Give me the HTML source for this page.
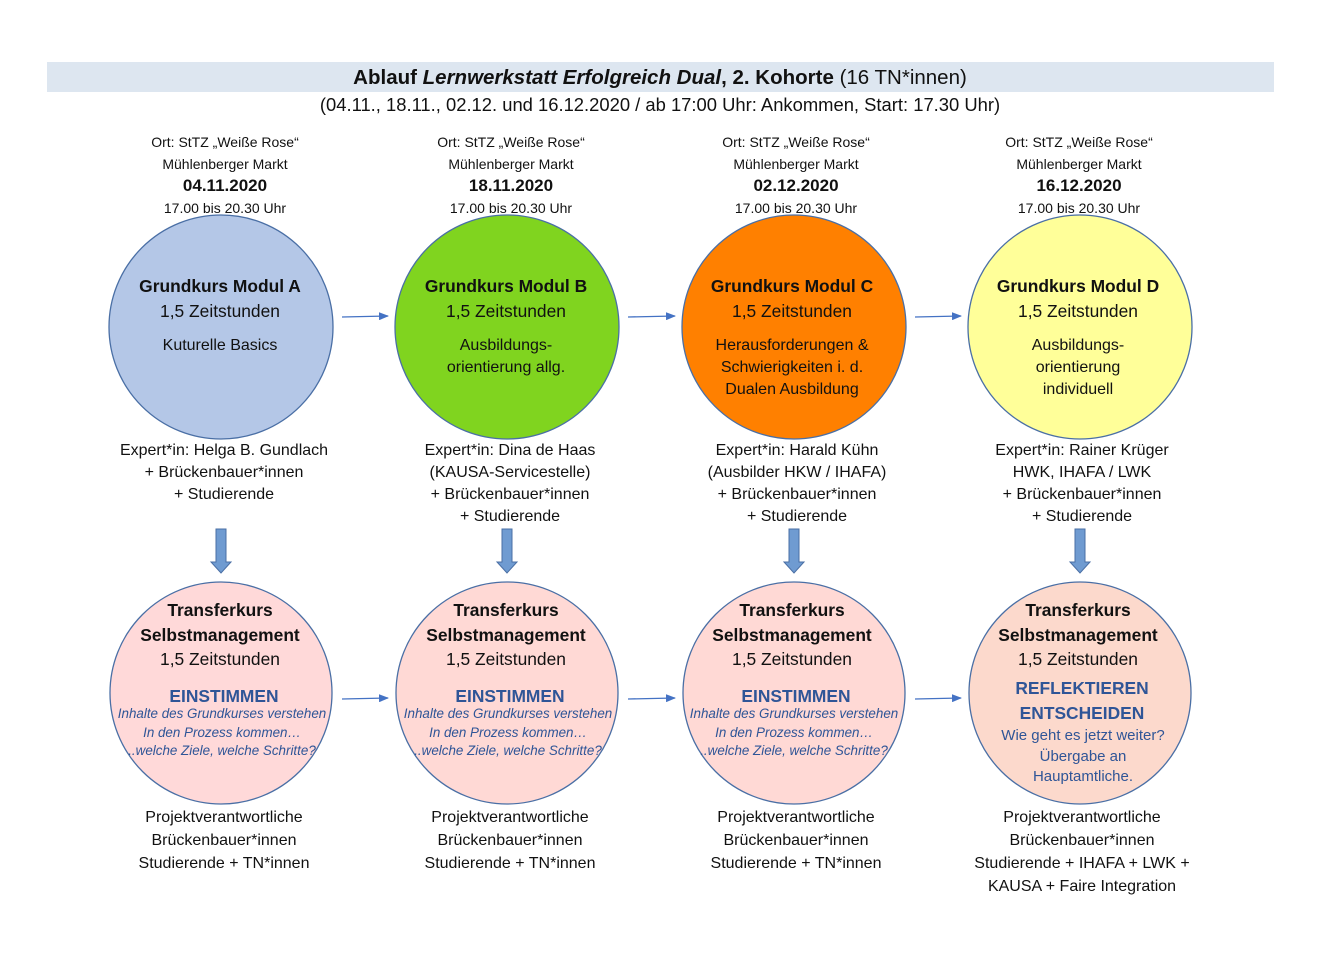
<!DOCTYPE html>
<html><head><meta charset="utf-8"><style>
body{margin:0;width:1340px;height:953px;background:#fff;position:relative;font-family:"Liberation Sans",sans-serif;color:#111;overflow:hidden}
.t{position:absolute;text-align:center;white-space:nowrap;transform:translateX(-50%)}
.hd{font-size:14px;line-height:21.5px}
.ci{font-size:16px;line-height:22px}
.b{font-weight:bold}
.blue{color:#2f5597}
.it{font-style:italic;font-size:13.4px;line-height:18.5px;color:#2f5597}
</style></head><body>
<div style="position:absolute;left:47px;top:62px;width:1227px;height:30px;background:#dde6f0"></div>
<div class="t" style="left:660px;top:66px;font-size:20.5px"><b>Ablauf <i>Lernwerkstatt Erfolgreich Dual</i>, 2. Kohorte</b> (16 TN*innen)</div>
<div class="t" style="left:660px;top:94px;font-size:18.4px">(04.11., 18.11., 02.12. und 16.12.2020 / ab 17:00 Uhr: Ankommen, Start: 17.30 Uhr)</div>
<svg width="1340" height="953" style="position:absolute;left:0;top:0">
<defs><marker id="a" markerWidth="10" markerHeight="8" refX="9" refY="4" orient="auto" markerUnits="userSpaceOnUse"><path d="M0,0L10,4L0,8z" fill="#4472c4"/></marker></defs>
<g stroke="#4a6fa5" stroke-width="1.3">
<circle cx="221" cy="327" r="112" fill="#b4c7e7"/>
<circle cx="507" cy="327" r="112" fill="#80d41f"/>
<circle cx="794" cy="327" r="112" fill="#ff8000"/>
<circle cx="1080" cy="327" r="112" fill="#ffff99"/>
<circle cx="221" cy="693" r="111" fill="#ffd9d9"/>
<circle cx="507" cy="693" r="111" fill="#ffd9d5"/>
<circle cx="794" cy="693" r="111" fill="#ffd9d5"/>
<circle cx="1080" cy="693" r="111" fill="#fcd9cc"/>
</g>
<g stroke="#4472c4" stroke-width="1.3" marker-end="url(#a)">
<line x1="342" y1="317" x2="388" y2="316"/>
<line x1="628" y1="317" x2="675" y2="316"/>
<line x1="915" y1="317" x2="961" y2="316"/>
<line x1="342" y1="699" x2="388" y2="698"/>
<line x1="628" y1="699" x2="675" y2="698"/>
<line x1="915" y1="699" x2="961" y2="698"/>
</g>
<g fill="#6f9bd1" stroke="#4a6fa5" stroke-width="1">
<path d="M216,529h10v33h5l-10,11l-10,-11h5z"/>
<path d="M502,529h10v33h5l-10,11l-10,-11h5z"/>
<path d="M789,529h10v33h5l-10,11l-10,-11h5z"/>
<path d="M1075,529h10v33h5l-10,11l-10,-11h5z"/>
</g>
</svg>

<div class="t hd" style="left:225px;top:132px">Ort: StTZ „Weiße Rose“<br>Mühlenberger Markt<br><b style="font-size:17px">04.11.2020</b><br>17.00 bis 20.30 Uhr</div>
<div class="t hd" style="left:511px;top:132px">Ort: StTZ „Weiße Rose“<br>Mühlenberger Markt<br><b style="font-size:17px">18.11.2020</b><br>17.00 bis 20.30 Uhr</div>
<div class="t hd" style="left:796px;top:132px">Ort: StTZ „Weiße Rose“<br>Mühlenberger Markt<br><b style="font-size:17px">02.12.2020</b><br>17.00 bis 20.30 Uhr</div>
<div class="t hd" style="left:1079px;top:132px">Ort: StTZ „Weiße Rose“<br>Mühlenberger Markt<br><b style="font-size:17px">16.12.2020</b><br>17.00 bis 20.30 Uhr</div>

<div class="t ci" style="left:220px;top:274px;font-size:17.4px;line-height:25px"><b>Grundkurs Modul A</b><br>1,5 Zeitstunden</div>
<div class="t ci" style="left:220px;top:335px">Kuturelle Basics</div>
<div class="t ci" style="left:506px;top:274px;font-size:17.4px;line-height:25px"><b>Grundkurs Modul B</b><br>1,5 Zeitstunden</div>
<div class="t ci" style="left:506px;top:335px">Ausbildungs-<br>orientierung allg.</div>
<div class="t ci" style="left:792px;top:274px;font-size:17.4px;line-height:25px"><b>Grundkurs Modul C</b><br>1,5 Zeitstunden</div>
<div class="t ci" style="left:792px;top:335px">Herausforderungen &amp;<br>Schwierigkeiten i. d.<br>Dualen Ausbildung</div>
<div class="t ci" style="left:1078px;top:274px;font-size:17.4px;line-height:25px"><b>Grundkurs Modul D</b><br>1,5 Zeitstunden</div>
<div class="t ci" style="left:1078px;top:335px">Ausbildungs-<br>orientierung<br>individuell</div>

<div class="t ci" style="left:224px;top:440px">Expert*in: Helga B. Gundlach<br>+ Brückenbauer*innen<br>+ Studierende</div>
<div class="t ci" style="left:510px;top:440px">Expert*in: Dina de Haas<br>(KAUSA-Servicestelle)<br>+ Brückenbauer*innen<br>+ Studierende</div>
<div class="t ci" style="left:797px;top:440px">Expert*in: Harald Kühn<br>(Ausbilder HKW / IHAFA)<br>+ Brückenbauer*innen<br>+ Studierende</div>
<div class="t ci" style="left:1082px;top:440px">Expert*in: Rainer Krüger<br>HWK, IHAFA / LWK<br>+ Brückenbauer*innen<br>+ Studierende</div>

<div class="t ci" style="left:220px;top:598px;font-size:17.4px;line-height:24.5px"><b>Transferkurs<br>Selbstmanagement</b><br>1,5 Zeitstunden</div>
<div class="t b blue" style="left:224px;top:686px;font-size:17.4px">EINSTIMMEN</div>
<div class="t it" style="left:222px;top:705px">Inhalte des Grundkurses verstehen<br>In den Prozess kommen…<br>..welche Ziele, welche Schritte?</div>
<div class="t ci" style="left:506px;top:598px;font-size:17.4px;line-height:24.5px"><b>Transferkurs<br>Selbstmanagement</b><br>1,5 Zeitstunden</div>
<div class="t b blue" style="left:510px;top:686px;font-size:17.4px">EINSTIMMEN</div>
<div class="t it" style="left:508px;top:705px">Inhalte des Grundkurses verstehen<br>In den Prozess kommen…<br>..welche Ziele, welche Schritte?</div>
<div class="t ci" style="left:792px;top:598px;font-size:17.4px;line-height:24.5px"><b>Transferkurs<br>Selbstmanagement</b><br>1,5 Zeitstunden</div>
<div class="t b blue" style="left:796px;top:686px;font-size:17.4px">EINSTIMMEN</div>
<div class="t it" style="left:794px;top:705px">Inhalte des Grundkurses verstehen<br>In den Prozess kommen…<br>..welche Ziele, welche Schritte?</div>
<div class="t ci" style="left:1078px;top:598px;font-size:17.4px;line-height:24.5px"><b>Transferkurs<br>Selbstmanagement</b><br>1,5 Zeitstunden</div>
<div class="t b blue" style="left:1082px;top:676px;font-size:17.4px;line-height:25px">REFLEKTIEREN<br>ENTSCHEIDEN</div>
<div class="t blue" style="left:1083px;top:726px;font-size:15px;line-height:20.5px">Wie geht es jetzt weiter?<br>Übergabe an<br>Hauptamtliche.</div>

<div class="t ci" style="left:224px;top:806px;line-height:23px">Projektverantwortliche<br>Brückenbauer*innen<br>Studierende + TN*innen</div>
<div class="t ci" style="left:510px;top:806px;line-height:23px">Projektverantwortliche<br>Brückenbauer*innen<br>Studierende + TN*innen</div>
<div class="t ci" style="left:796px;top:806px;line-height:23px">Projektverantwortliche<br>Brückenbauer*innen<br>Studierende + TN*innen</div>
<div class="t ci" style="left:1082px;top:806px;line-height:23px">Projektverantwortliche<br>Brückenbauer*innen<br>Studierende + IHAFA + LWK +<br>KAUSA + Faire Integration</div>
</body></html>
